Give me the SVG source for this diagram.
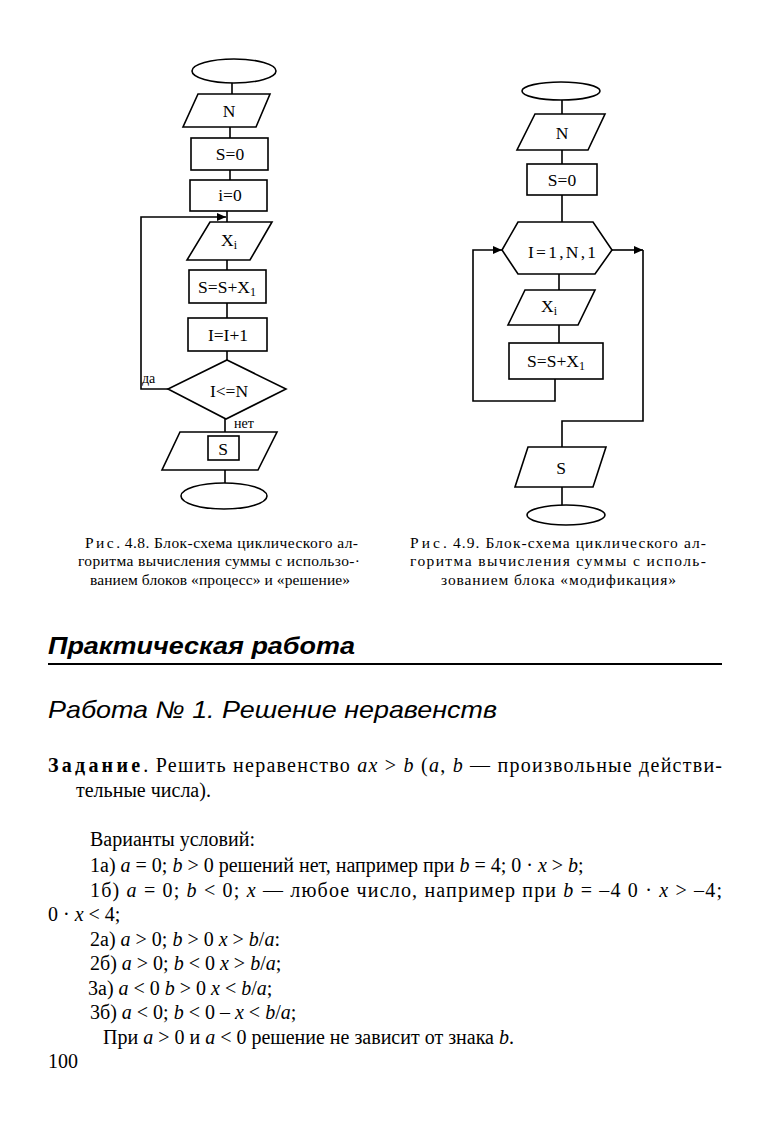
<svg xmlns="http://www.w3.org/2000/svg" width="779" height="1136" viewBox="0 0 779 1136">
<style>
.s{fill:none;stroke:#000;stroke-width:1.6}
.b{fill:#fff;stroke:#000;stroke-width:1.6}
.t{font-family:"Liberation Serif",serif;font-size:17.5px;fill:#000;text-anchor:middle}
.l{font-family:"Liberation Serif",serif;font-size:14px;fill:#000}
.c{font-family:"Liberation Serif",serif;font-size:15.5px;fill:#000}
.p{font-family:"Liberation Serif",serif;font-size:20px;fill:#000}
.i{font-style:italic}
</style>
<defs>
<marker id="ar" markerWidth="10" markerHeight="10" refX="9" refY="5" orient="auto" markerUnits="userSpaceOnUse">
<path d="M0,1 L9,5 L0,9 Z" fill="#000"/>
</marker>
</defs>
<rect width="779" height="1136" fill="#fff"/>

<g id="connectors">
<path class="s" d="M232,83 V94 M230,127 V138 M230,170 V180 M227,211 V222 M227,260 V270 M227,303 V318 M227,351 V360 M225,419 V432 M225,470 V483"/>
<path class="s" d="M168,389 H141 V217 H226" marker-end="url(#ar)"/>
<path class="s" d="M562,100 V114 M562,150 V164 M562,195 V222 M559,274 V290 M559,325 V343 M562,487 V506"/>
<path class="s" d="M555,379 V401 H473 V250 H502" marker-end="url(#ar)"/>
<path class="s" d="M612,250 H643" marker-end="url(#ar)"/>
<path class="s" d="M643,250 V421 H562 V447"/>
</g>

<g id="l-start"><ellipse class="b" cx="234" cy="71" rx="42" ry="12"/></g>
<g id="l-n"><polygon class="b" points="198,94 270,94 256,127 183,127"/><text class="t" x="229" y="117">N</text></g>
<g id="l-s0"><rect class="b" x="191" y="138" width="77" height="32"/><text class="t" x="230" y="160">S=0</text></g>
<g id="l-i0"><rect class="b" x="190" y="180" width="77" height="31"/><text class="t" x="230" y="201">i=0</text></g>
<g id="l-xi"><polygon class="b" points="210,222 272,222 250,260 187,260"/><text class="t" x="229" y="246">X<tspan font-size="12" dy="3">i</tspan></text></g>
<g id="l-sum"><rect class="b" x="189" y="270" width="77" height="33"/><text class="t" x="227" y="293">S=S+X<tspan font-size="12" dy="3">1</tspan></text></g>
<g id="l-inc"><rect class="b" x="188" y="318" width="79" height="33"/><text class="t" x="228" y="341">I=I+1</text></g>
<g id="l-cond"><polygon class="b" points="227,360 286,389 226,419 168,389"/><text class="t" x="229" y="397">I&lt;=N</text>
<text class="l" x="142" y="383">да</text><text class="l" x="234" y="428">нет</text></g>
<g id="l-out"><polygon class="b" points="180,432 277,432 258,470 162,470"/><rect class="b" x="208" y="436" width="31" height="24"/><text class="t" x="223" y="455">S</text></g>
<g id="l-end"><ellipse class="b" cx="224" cy="496" rx="43" ry="13"/></g>

<g id="r-start"><ellipse class="b" cx="561" cy="91" rx="39" ry="9"/></g>
<g id="r-n"><polygon class="b" points="535,114 605,114 588,150 517,150"/><text class="t" x="562" y="139">N</text></g>
<g id="r-s0"><rect class="b" x="527" y="164" width="70" height="31"/><text class="t" x="562" y="186">S=0</text></g>
<g id="r-loop"><polygon class="b" points="518,222 593,222 612,250 595,274 518,274 502,250"/><text class="t" x="562" y="258" textLength="68" lengthAdjust="spacing">I=1,N,1</text></g>
<g id="r-xi"><polygon class="b" points="525,290 595,290 578,325 508,325"/><text class="t" x="549" y="312">X<tspan font-size="12" dy="3">i</tspan></text></g>
<g id="r-sum"><rect class="b" x="509" y="343" width="94" height="36"/><text class="t" x="556" y="367">S=S+X<tspan font-size="12" dy="3">1</tspan></text></g>
<g id="r-out"><polygon class="b" points="528,447 606,447 593,487 515,487"/><text class="t" x="561" y="474">S</text></g>
<g id="r-end"><ellipse class="b" cx="566" cy="515" rx="39" ry="10"/></g>

<g id="captions">
<text class="c" x="85" y="548" textLength="273" lengthAdjust="spacing"><tspan letter-spacing="2">Рис</tspan>. 4.8. Блок-схема циклического ал-</text>
<text class="c" x="78" y="566" textLength="282" lengthAdjust="spacing">горитма вычисления суммы с использо-·</text>
<text class="c" x="90" y="585" textLength="260" lengthAdjust="spacing">ванием блоков «процесс» и «решение»</text>
<text class="c" x="410" y="548" textLength="296" lengthAdjust="spacing"><tspan letter-spacing="2">Рис</tspan>. 4.9. Блок-схема циклического ал-</text>
<text class="c" x="410" y="566" textLength="296" lengthAdjust="spacing">горитма вычисления суммы с исполь-</text>
<text class="c" x="441" y="585" textLength="235" lengthAdjust="spacing">зованием блока «модификация»</text>
</g>

<g id="text">
<text x="48" y="654" font-family="Liberation Sans,sans-serif" font-size="23" font-weight="bold" font-style="italic" textLength="307" lengthAdjust="spacingAndGlyphs">Практическая работа</text>
<line x1="48" y1="664" x2="722" y2="664" stroke="#000" stroke-width="2"/>
<text x="48" y="718" font-family="Liberation Sans,sans-serif" font-size="24" font-style="italic" textLength="449" lengthAdjust="spacingAndGlyphs">Работа № 1. Решение неравенств</text>

<text class="p" x="48" y="772" textLength="674" lengthAdjust="spacing"><tspan font-weight="bold" letter-spacing="2">Задание</tspan>. Решить неравенство <tspan class="i">ax</tspan> &gt; <tspan class="i">b</tspan> (<tspan class="i">a</tspan>, <tspan class="i">b</tspan> — произвольные действи-</text>
<text class="p" x="76" y="797">тельные числа).</text>
<text class="p" x="90" y="846">Варианты условий:</text>
<text class="p" x="90" y="872">1а) <tspan class="i">a</tspan> = 0; <tspan class="i">b</tspan> &gt; 0 решений нет, например при <tspan class="i">b</tspan> = 4; 0 · <tspan class="i">x</tspan> &gt; <tspan class="i">b</tspan>;</text>
<text class="p" x="90" y="897" textLength="632" lengthAdjust="spacing">1б) <tspan class="i">a</tspan> = 0; <tspan class="i">b</tspan> &lt; 0; <tspan class="i">x</tspan> — любое число, например при <tspan class="i">b</tspan> = –4 0 · <tspan class="i">x</tspan> &gt; –4;</text>
<text class="p" x="48" y="921">0 · <tspan class="i">x</tspan> &lt; 4;</text>
<text class="p" x="90" y="946">2а) <tspan class="i">a</tspan> &gt; 0; <tspan class="i">b</tspan> &gt; 0 <tspan class="i">x</tspan> &gt; <tspan class="i">b</tspan>/<tspan class="i">a</tspan>:</text>
<text class="p" x="90" y="970">2б) <tspan class="i">a</tspan> &gt; 0; <tspan class="i">b</tspan> &lt; 0 <tspan class="i">x</tspan> &gt; <tspan class="i">b</tspan>/<tspan class="i">a</tspan>;</text>
<text class="p" x="88" y="995">3а) <tspan class="i">a</tspan> &lt; 0 <tspan class="i">b</tspan> &gt; 0 <tspan class="i">x</tspan> &lt; <tspan class="i">b</tspan>/<tspan class="i">a</tspan>;</text>
<text class="p" x="90" y="1019">3б) <tspan class="i">a</tspan> &lt; 0; <tspan class="i">b</tspan> &lt; 0 – <tspan class="i">x</tspan> &lt; <tspan class="i">b</tspan>/<tspan class="i">a</tspan>;</text>
<text class="p" x="103" y="1044">При <tspan class="i">a</tspan> &gt; 0 и <tspan class="i">a</tspan> &lt; 0 решение не зависит от знака <tspan class="i">b</tspan>.</text>
<text class="p" x="48" y="1068" font-size="17">100</text>
</g>
</svg>
